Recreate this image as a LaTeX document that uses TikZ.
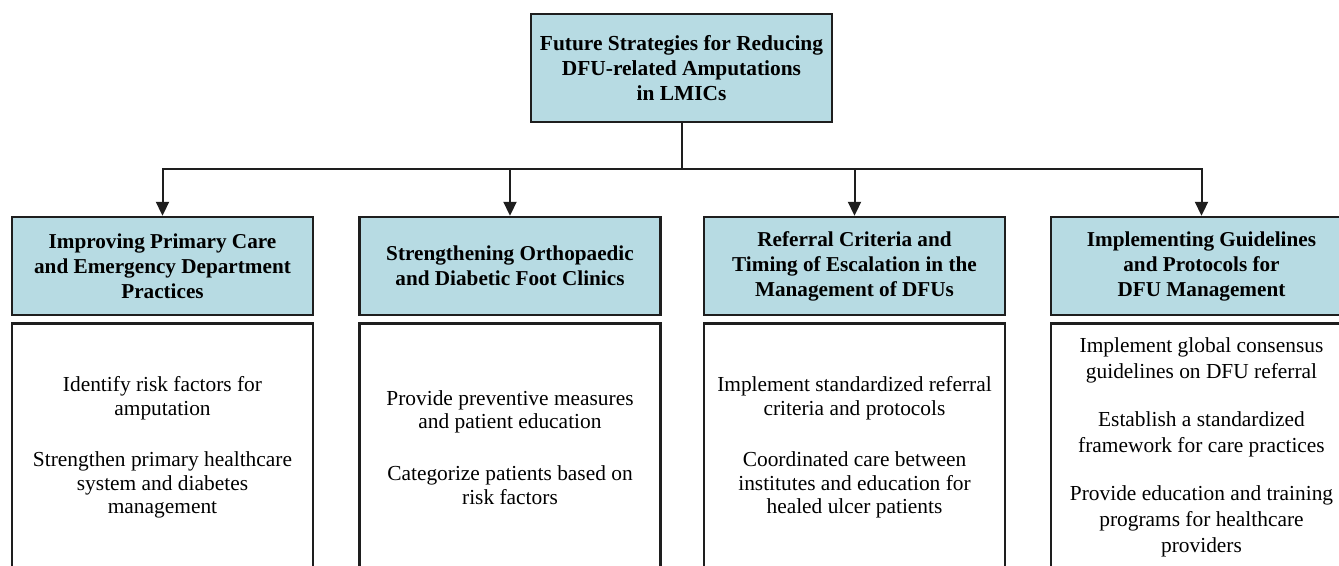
\documentclass[tikz,border=0pt]{standalone}
\usepackage{fontspec}
\setmainfont{Liberation Serif}
\usetikzlibrary{arrows.meta, positioning, calc}
\definecolor{dfuBlue}{RGB}{183,219,227}
\definecolor{dfuInk}{RGB}{30,30,30}

\begin{document}
\begin{tikzpicture}[x=0.5pt,y=-0.5pt,
  goal/.style={draw=dfuInk,line width=1.2pt,fill=dfuBlue,
               minimum width=150.5pt,minimum height=54pt,align=center,
               font=\fontsize{10.7}{12.5}\selectfont\bfseries},
  header/.style={draw=dfuInk,line width=1.2pt,fill=dfuBlue,
               minimum width=150.5pt,minimum height=49pt,align=center,
               font=\fontsize{10.6}{12.5}\selectfont\bfseries},
  body/.style={draw=dfuInk,line width=1.2pt,fill=white,anchor=north,
               minimum width=150.5pt,minimum height=124pt,align=center,
               font=\fontsize{10.7}{11.8}\selectfont},
  link/.style={line width=1pt,draw=dfuInk,-{Triangle[length=7pt,width=6.5pt]}}]

\useasboundingbox (0,0) rectangle (1339,566);
\clip (0,0) rectangle (1339,566);

% ===== top goal =====
\node[goal] (goal) at (681.5,68)
   {Future Strategies for Reducing\\DFU-related Amputations\\in LMICs};

% ===== strategy headers =====
\node[header] (h1) at (162.5,266)
   {Improving Primary Care\\and Emergency Department\\Practices};
\node[header] (h2) at (510,266)
   {Strengthening Orthopaedic\\and Diabetic Foot Clinics};
\node[header] (h3) at (854.5,266)
   {Referral Criteria and\\Timing of Escalation in the\\Management of DFUs};
\node[header] (h4) at (1201.5,266)
   {Implementing Guidelines\\and Protocols for\\DFU Management};

% ===== strategy contents =====
\node[body,below=3pt of h1] (b1)
   {Identify risk factors for\\amputation\\[14pt]
    Strengthen primary healthcare\\system and diabetes\\management};
\node[body,below=3pt of h2] (b2)
   {Provide preventive measures\\and patient education\\[14pt]
    Categorize patients based on\\risk factors};
\node[body,below=3pt of h3] (b3)
   {Implement standardized referral\\criteria and protocols\\[14pt]
    Coordinated care between\\institutes and education for\\healed ulcer patients};
\node[body,below=3pt of h4,font=\fontsize{10.7}{13}\selectfont] (b4)
   {Implement global consensus\\guidelines on DFU referral\\[11pt]
    Establish a standardized\\framework for care practices\\[11pt]
    Provide education and training\\programs for healthcare\\providers};

% ===== connectors =====
\coordinate (bus) at ($(goal.south)+(0,46)$);
\draw[line width=1pt,draw=dfuInk] (goal.south) -- (bus);
\draw[link] (bus) -| (h1.north);
\draw[link] (bus) -| (h2.north);
\draw[link] (bus) -| (h3.north);
\draw[link] (bus) -| (h4.north);
\end{tikzpicture}
\end{document}
